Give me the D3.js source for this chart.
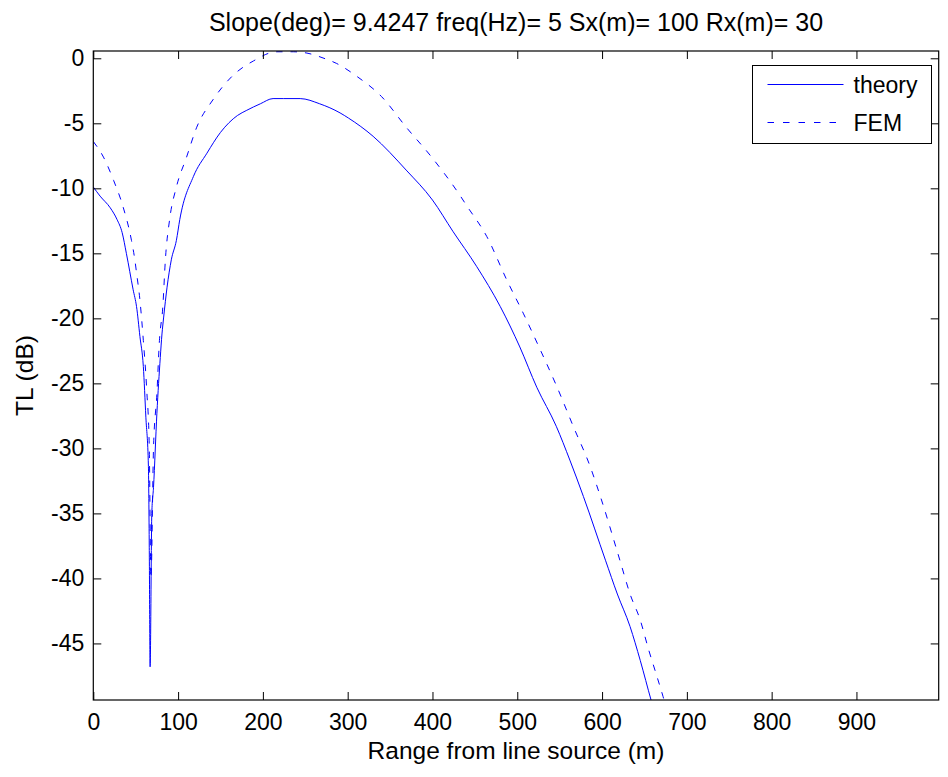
<!DOCTYPE html>
<html>
<head>
<meta charset="utf-8">
<script src="https://cdn.jsdelivr.net/npm/d3@7"></script>
<style>
  body { margin: 0; background: #fff; }
  svg { display: block; }
  text { font-family: "Liberation Sans", Arial, sans-serif; fill: #000; }
</style>
</head>
<body>
<svg width="948" height="777"></svg>
<script>
// theory curve (range m, TL dB)
var theoryRange = [0, 8, 20, 28, 34, 39, 47, 51, 55, 59, 62, 65, 66, 67, 69, 71, 75, 79, 81, 83, 87, 92, 98, 102, 118, 134, 150, 170, 181, 197, 212, 224, 244, 267, 291, 301, 330, 369, 400, 424, 452, 480, 503, 523, 546, 562, 578, 604, 618, 633, 645, 658, 670];
var theoryTL = [-9.9, -10.6, -11.5, -12.4, -13.4, -15.0, -17.8, -19.1, -21.4, -23.7, -27.6, -31.4, -37.6, -46.8, -35.0, -33.0, -27.3, -23.0, -21.2, -19.9, -17.6, -15.5, -14.0, -12.4, -9.1, -7.3, -5.7, -4.4, -4.0, -3.5, -3.1, -3.1, -3.1, -3.5, -4.2, -4.6, -6.0, -8.6, -10.9, -13.3, -16.0, -19.1, -22.2, -25.3, -28.3, -30.9, -33.7, -38.6, -41.2, -43.7, -46.3, -49.4, -52.0];

// FEM curve
var femRange = [0, 12, 24, 35, 45, 49, 51, 55, 59, 63, 66, 68, 71, 75, 78, 82, 85, 90, 98, 110, 122, 141, 165, 189, 216, 236, 252, 272, 287, 311, 340, 369, 399, 433, 440, 464, 488, 507, 527, 547, 566, 586, 598, 621, 633, 645, 655, 665, 672, 680];
var femTL = [-6.4, -7.6, -9.4, -11.4, -14.0, -15.5, -16.5, -18.6, -21.7, -25.5, -29.9, -40.0, -30.0, -25.8, -21.7, -19.1, -15.5, -12.4, -9.9, -7.6, -5.3, -3.2, -1.3, -0.2, 0.5, 0.5, 0.4, 0.0, -0.4, -1.4, -2.95, -5.3, -7.6, -10.6, -11.3, -13.7, -17.1, -19.6, -22.4, -25.3, -28.3, -31.4, -33.7, -38.6, -41.2, -43.2, -45.5, -47.6, -49.1, -51.0];

var xTicks = [0, 100, 200, 300, 400, 500, 600, 700, 800, 900];
var yTicks = [0, -5, -10, -15, -20, -25, -30, -35, -40, -45];
var seriesNames = ["theory", "FEM"];

var marge = { top: 51, bottom: 77, left: 93.3, right: 9.3 };
var width = 948 - marge.left - marge.right;
var height = 777 - marge.top - marge.bottom;
var fs = 23;

var svg = d3.select("svg");
var g = svg.append("g").attr("transform", "translate(" + marge.left + "," + marge.top + ")");

var x = d3.scaleLinear().domain([0, 997]).range([0, width]);
var y = d3.scaleLinear().domain([-49.35, 0.56]).range([height, 0]);

// clip for the curves
svg.append("defs").append("clipPath").attr("id", "plotclip")
  .append("rect").attr("width", width).attr("height", height);

var line = d3.line()
  .curve(d3.curveMonotoneX)
  .x(function(d){ return x(d[0]); })
  .y(function(d){ return y(d[1]); });

var theoryData = theoryRange.map(function(r, i){ return [r, theoryTL[i]]; });
var femData = femRange.map(function(r, i){ return [r, femTL[i]]; });

var curves = g.append("g").attr("clip-path", "url(#plotclip)");
curves.append("path").datum(theoryData)
  .attr("d", line).attr("fill", "none").attr("stroke", "#0000ff").attr("stroke-width", 1);
curves.append("path").datum(femData)
  .attr("d", line).attr("fill", "none").attr("stroke", "#0000ff").attr("stroke-width", 1)
  .attr("stroke-dasharray", "6.5,8");

// axes, matlab style: ticks inside on all four sides
var tl = 8;
var plain = function(d){ return String(d); };
g.append("g").call(d3.axisBottom(x).tickValues(xTicks).tickSize(-tl).tickPadding(tl + 6).tickFormat(plain))
  .attr("transform", "translate(0," + height + ")");
g.append("g").call(d3.axisTop(x).tickValues(xTicks).tickSize(-tl).tickFormat(""));
g.append("g").call(d3.axisLeft(y).tickValues(yTicks).tickSize(-tl).tickPadding(tl + 1).tickFormat(plain));
g.append("g").call(d3.axisRight(y).tickValues(yTicks).tickSize(-tl).tickFormat(""))
  .attr("transform", "translate(" + width + ",0)");

g.selectAll(".domain").remove();
g.selectAll(".tick line").attr("stroke", "#000").attr("stroke-width", 1);
g.selectAll(".tick text").style("font-size", fs + "px").attr("fill", "#000")
  .style("font-family", '"Liberation Sans", Arial, sans-serif');

g.append("rect").attr("width", width).attr("height", height)
  .attr("fill", "none").attr("stroke", "#000").attr("stroke-width", 1.2);

// title and labels (slightly larger, like matlab)
svg.append("text").attr("x", marge.left + width / 2).attr("y", 31)
  .attr("text-anchor", "middle").style("font-size", "25px")
  .text("Slope(deg)= 9.4247 freq(Hz)= 5 Sx(m)= 100 Rx(m)= 30");
svg.append("text").attr("x", marge.left + width / 2).attr("y", 759)
  .attr("text-anchor", "middle").style("font-size", "24.5px")
  .text("Range from line source (m)");
svg.append("text").attr("transform", "translate(33," + (marge.top + height / 2) + ") rotate(-90)")
  .attr("text-anchor", "middle").style("font-size", "24.5px")
  .text("TL (dB)");

// legend
var lg = svg.append("g").attr("transform", "translate(752.5,65.5)");
lg.append("rect").attr("width", 179).attr("height", 78)
  .attr("fill", "#fff").attr("stroke", "#000").attr("stroke-width", 1);
lg.selectAll("line.item").data(seriesNames).enter().append("line")
  .attr("x1", 15).attr("x2", 91)
  .attr("y1", function(d, i){ return 19 + i * 38; })
  .attr("y2", function(d, i){ return 19 + i * 38; })
  .attr("stroke", "#0000ff").attr("stroke-width", 1)
  .attr("stroke-dasharray", function(d, i){ return i == 1 ? "6.5,9" : null; });
lg.selectAll("text").data(seriesNames).enter().append("text")
  .attr("x", 101)
  .attr("y", function(d, i){ return 27.5 + i * 38; })
  .style("font-size", fs + "px")
  .text(function(d){ return d; });
</script>
</body>
</html>
